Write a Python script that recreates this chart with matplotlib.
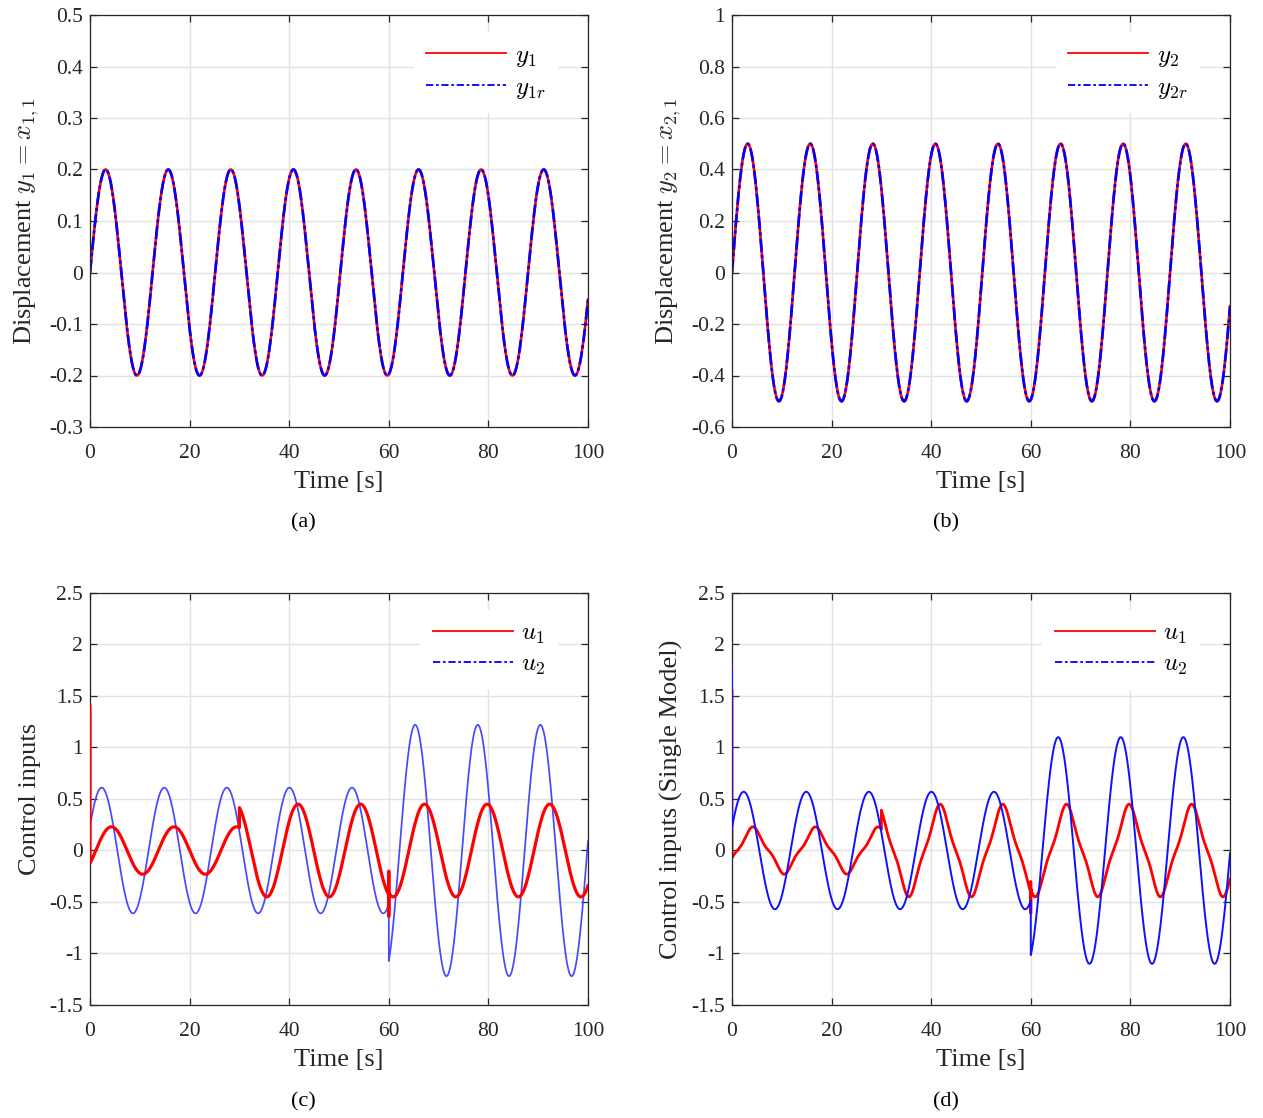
import numpy as np
import matplotlib
matplotlib.use("Agg")
import matplotlib.pyplot as plt
from matplotlib.ticker import FuncFormatter, MultipleLocator

plt.rcParams["font.family"] = "serif"
plt.rcParams["font.serif"] = ["Liberation Serif", "DejaVu Serif"]
plt.rcParams["mathtext.fontset"] = "cm"
plt.rcParams["axes.unicode_minus"] = False

# sinusoid parameters of the simulated signals: amplitude, angular freq, phase
w = 0.5
y1_amp, y2_amp = 0.2, 0.5

# panel (c): u2 changes at t=60, u1 changes at t=30 and t=60
c_u2_amp = [0.61, 1.22]
c_u2_phase = [0.40, 0.34]
c_u1_amp = [0.23, 0.45, 0.45]
c_u1_phase = [-0.58, -0.47, -0.60]

# panel (d): single model, u1 has a third-harmonic ripple
d_u2_amp = [0.57, 1.10]
d_u2_phase = [0.40, 0.24]
d_u1_amp = [0.20, 0.40, 0.40]
d_u1_ripple = [0.03, 0.05, 0.05]
d_u1_phase = [-0.53, -0.48, -0.60]

switch_u1 = [30, 60]
switch_u2 = 60

# initial peaks at t=0 and spikes at t=60
c_u1_t0, c_u2_t0 = 1.40, 1.50
d_u1_t0, d_u2_t0 = 1.55, 1.80
c_u1_spike = [-0.20, -0.64]
d_u1_spike = [-0.30, -0.61]

t = np.linspace(0, 100, 20001)


def piecewise(t, edges, amps, phases, ripple=None):
    out = np.zeros_like(t)
    bounds = [0] + list(edges) + [100.01]
    for i in range(len(amps)):
        m = (t >= bounds[i]) & (t < bounds[i + 1])
        th = w * t[m] + phases[i]
        out[m] = amps[i] * np.sin(th)
        if ripple is not None:
            out[m] -= ripple[i] * np.sin(3 * th)
    return out


def with_points(t, y, t_at, vals):
    # insert extra samples (vertical spikes) at time t_at
    i = np.searchsorted(t, t_at)
    tt = np.concatenate([t[:i], np.full(len(vals), t_at), t[i:]])
    yy = np.concatenate([y[:i], vals, y[i:]])
    return tt, yy


fig = plt.figure(figsize=(12.63, 11.18), dpi=100)
W, H = 1263, 1118
boxes = {
    "a": (90, 15), "b": (732, 15),
    "c": (90, 593), "d": (732, 593),
}
axs = {}
for k, (x0, y0) in boxes.items():
    axs[k] = fig.add_axes([x0 / W, 1 - (y0 + 412) / H, 498 / W, 412 / H])

fmt = FuncFormatter(lambda v, p: "%g" % round(v, 6))
dark = "#262626"


def style(ax, ylim, ystep, ylabel):
    ax.set_xlim(0, 100)
    ax.set_ylim(*ylim)
    ax.xaxis.set_major_locator(MultipleLocator(20))
    ax.yaxis.set_major_locator(MultipleLocator(ystep))
    ax.xaxis.set_major_formatter(fmt)
    ax.yaxis.set_major_formatter(fmt)
    ax.grid(True, color="#e3e3e3", lw=1.0)
    ax.set_axisbelow(True)
    ax.tick_params(direction="in", length=5, width=0.9, top=True, right=True,
                   colors=dark, labelsize=15.5, pad=5)
    ax.tick_params(axis="x", pad=12)
    for s in ax.spines.values():
        s.set_color(dark)
        s.set_linewidth(0.9)
    ax.set_xlabel("Time [s]", fontsize=19, color=dark, labelpad=6)
    ax.set_ylabel(ylabel, fontsize=19, color=dark, labelpad=6)


def legend(ax, hl=3.2):
    lg = ax.legend(loc="upper right", bbox_to_anchor=(0.965, 0.99),
                   fontsize=18, handlelength=hl, labelspacing=0.3,
                   frameon=True, fancybox=False, framealpha=1,
                   borderpad=0.5, handletextpad=0.35)
    lg.get_frame().set_edgecolor("none")
    lg.get_frame().set_facecolor("white")


dashdot = (0, (5, 1.2, 1.2, 1.2))
leg_dashdot = (0, (4, 1.5, 1.5, 1.5))

# (a)
ax = axs["a"]
y1 = y1_amp * np.sin(w * t)
ax.plot(t, y1, color="red", lw=1.9)
ax.plot(t, y1, color="blue", lw=1.9, ls=dashdot)
ax.plot([], [], color="red", lw=1.3, label=r"$y_1$")
ax.plot([], [], color="blue", lw=1.3, ls=leg_dashdot, label=r"$y_{1r}$")
style(ax, (-0.3, 0.5), 0.1, r"Displacement $y_1 = x_{1,1}$")
legend(ax)

# (b)
ax = axs["b"]
y2 = y2_amp * np.sin(w * t)
ax.plot(t, y2, color="red", lw=1.9)
ax.plot(t, y2, color="blue", lw=1.9, ls=dashdot)
ax.plot([], [], color="red", lw=1.3, label=r"$y_2$")
ax.plot([], [], color="blue", lw=1.3, ls=leg_dashdot, label=r"$y_{2r}$")
style(ax, (-0.6, 1.0), 0.2, r"Displacement $y_2 = x_{2,1}$")
legend(ax)

# (c)
ax = axs["c"]
u2 = piecewise(t, [switch_u2], c_u2_amp, c_u2_phase)
u1 = piecewise(t, switch_u1, c_u1_amp, c_u1_phase)
tb, u2 = with_points(t, u2, 0, [c_u2_t0])
tr, u1 = with_points(t, u1, 0, [c_u1_t0])
tr, u1 = with_points(tr, u1, 60, c_u1_spike)
ax.plot(tb, u2, color="#4848ff", lw=1.25, zorder=2)
ax.plot(tr, u1, color="red", lw=2.3, zorder=3)
ax.plot([], [], color="red", lw=1.3, label=r"$u_1$")
ax.plot([], [], color="blue", lw=1.3, ls=leg_dashdot, label=r"$u_2$")
style(ax, (-1.5, 2.5), 0.5, "Control inputs")
legend(ax)

# (d)
ax = axs["d"]
u2 = piecewise(t, [switch_u2], d_u2_amp, d_u2_phase)
u1 = piecewise(t, switch_u1, d_u1_amp, d_u1_phase, d_u1_ripple)
tb, u2 = with_points(t, u2, 0, [d_u2_t0])
tr, u1 = with_points(t, u1, 0, [d_u1_t0])
tr, u1 = with_points(tr, u1, 60, d_u1_spike)
ax.plot(tb, u2, color="#1010ff", lw=1.4, zorder=3)
ax.plot(tr, u1, color="red", lw=2.0, zorder=2)
ax.plot([], [], color="red", lw=1.3, label=r"$u_1$")
ax.plot([], [], color="blue", lw=1.3, ls=leg_dashdot, label=r"$u_2$")
style(ax, (-1.5, 2.5), 0.5, "Control inputs (Single Model)")
legend(ax, hl=4.0)

# sub-captions
for lab, (x, y) in zip("abcd", [(303, 523), (946, 523), (303, 1102), (946, 1102)]):
    fig.text(x / W, 1 - y / H, "(%s)" % lab, ha="center", va="center",
             fontsize=16, color="black")

fig.savefig("out.png", dpi=100)
